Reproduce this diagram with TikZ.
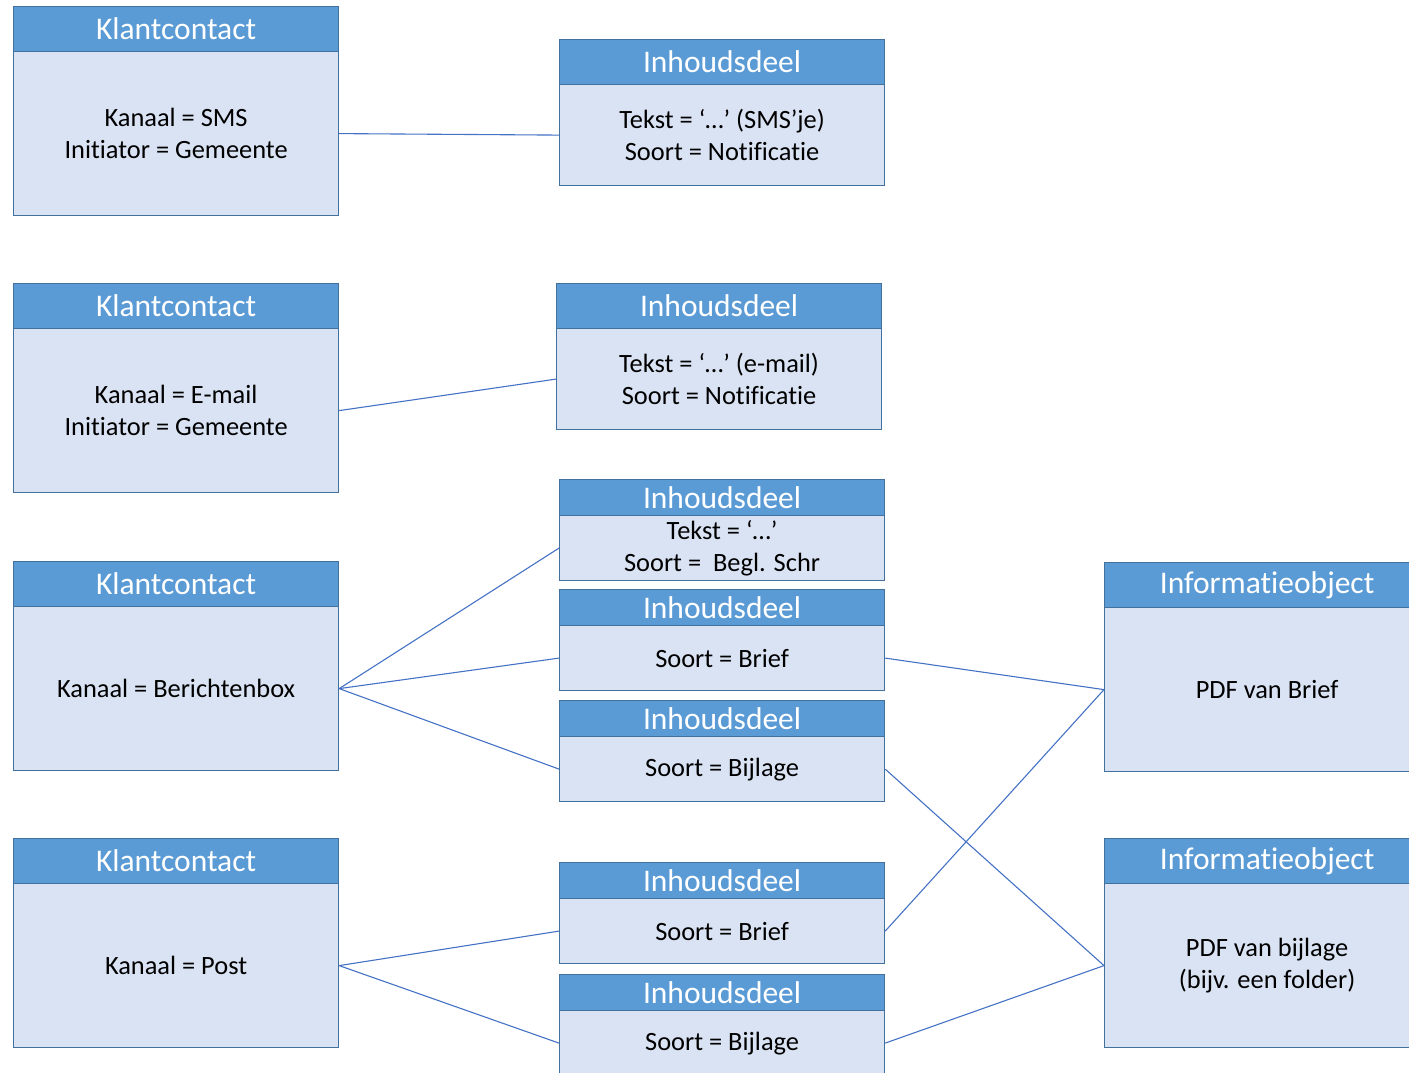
\documentclass[tikz,border=0pt]{standalone}
\usepackage{fontspec}
\setmainfont[Ligatures={NoCommon}]{Carlito}
\definecolor{headc}{HTML}{5B9BD5}
\definecolor{bodyc}{HTML}{DAE3F3}
\definecolor{bordc}{HTML}{41719C}
\definecolor{linec}{HTML}{4472C4}
\newcommand\kbodyfont{\fontsize{26.4}{32}\selectfont}
\newcommand\kheadfont{\fontsize{31.5}{36}\selectfont}
\tikzset{
  boxbody/.style={draw=bordc, fill=bodyc, line width=1.2pt, minimum width=325pt,
    anchor=north west, inner sep=0pt, align=center, font=\kbodyfont, text=black},
  boxhead/.style={draw=bordc, fill=headc, line width=1.2pt, minimum width=325pt,
    anchor=north west, inner sep=0pt, align=center, font=\kheadfont, text=white},
  conn/.style={draw=linec, line width=1.1pt}
}
\begin{document}
\begin{tikzpicture}[x=1pt,y=-1pt]
\path[use as bounding box] (0,0) rectangle (1409,1073);
\clip (0,0) rectangle (1409,1073);
% Klantcontact 1
\node[boxbody, minimum height=164pt] (k1) at (13,51) {Kanaal = SMS\\Initiator = Gemeente};
\node[boxhead, minimum height=45pt] (k1h) at (13,6) {Klantcontact};
% Klantcontact 2
\node[boxbody, minimum height=164pt] (k2) at (13,328) {Kanaal = E-mail\\Initiator = Gemeente};
\node[boxhead, minimum height=45pt] (k2h) at (13,283) {Klantcontact};
% Klantcontact 3
\node[boxbody, minimum height=164pt] (k3) at (13,606) {Kanaal = Berichtenbox};
\node[boxhead, minimum height=45pt] (k3h) at (13,561) {Klantcontact};
% Klantcontact 4
\node[boxbody, minimum height=164pt] (k4) at (13,883) {Kanaal = Post};
\node[boxhead, minimum height=45pt] (k4h) at (13,838) {Klantcontact};
% Inhoudsdeel 1
\node[boxbody, minimum height=101pt] (i1) at (559,84) {Tekst = ‘…’ (SMS’je)\\Soort = Notificatie};
\node[boxhead, minimum height=45pt] (i1h) at (559,39) {Inhoudsdeel};
% Inhoudsdeel 2
\node[boxbody, minimum height=101pt] (i2) at (556,328) {Tekst = ‘…’ (e-mail)\\Soort = Notificatie};
\node[boxhead, minimum height=45pt] (i2h) at (556,283) {Inhoudsdeel};
% Inhoudsdeel 3
\node[boxbody, minimum height=65pt] (i3) at (559,515) {Tekst = ‘…’\\Soort = \ Begl. Schr};
\node[boxhead, minimum height=36pt] (i3h) at (559,479) {Inhoudsdeel};
% Inhoudsdeel 4
\node[boxbody, minimum height=65pt] (i4) at (559,625) {Soort = Brief};
\node[boxhead, minimum height=36pt] (i4h) at (559,589) {Inhoudsdeel};
% Inhoudsdeel 5
\node[boxbody, minimum height=65pt] (i5) at (559,736) {Soort = Bijlage};
\node[boxhead, minimum height=36pt] (i5h) at (559,700) {Inhoudsdeel};
% Inhoudsdeel 6
\node[boxbody, minimum height=65pt] (i6) at (559,898) {Soort = Brief};
\node[boxhead, minimum height=36pt] (i6h) at (559,862) {Inhoudsdeel};
% Inhoudsdeel 7
\node[boxbody, minimum height=65pt] (i7) at (559,1010) {Soort = Bijlage};
\node[boxhead, minimum height=36pt] (i7h) at (559,974) {Inhoudsdeel};
% Informatieobject 1
\node[boxbody, minimum height=164pt] (o1) at (1104,607) {PDF van Brief};
\node[boxhead, minimum height=45pt] (o1h) at (1104,562) {Informatieobject};
% Informatieobject 2
\node[boxbody, minimum height=164pt] (o2) at (1104,883) {PDF van bijlage\\(bijv. een folder)};
\node[boxhead, minimum height=45pt] (o2h) at (1104,838) {Informatieobject};
% connectors
\draw[conn] (k1.east) -- (i1.west);
\draw[conn] (k2.east) -- (i2.west);
\draw[conn] (k3.east) -- (i3.west);
\draw[conn] (k3.east) -- (i4.west);
\draw[conn] (k3.east) -- (i5.west);
\draw[conn] (k4.east) -- (i6.west);
\draw[conn] (k4.east) -- (i7.west);
\draw[conn] (i4.east) -- (o1.west);
\draw[conn] (i6.east) -- (o1.west);
\draw[conn] (i5.east) -- (o2.west);
\draw[conn] (i7.east) -- (o2.west);
\end{tikzpicture}
\end{document}
